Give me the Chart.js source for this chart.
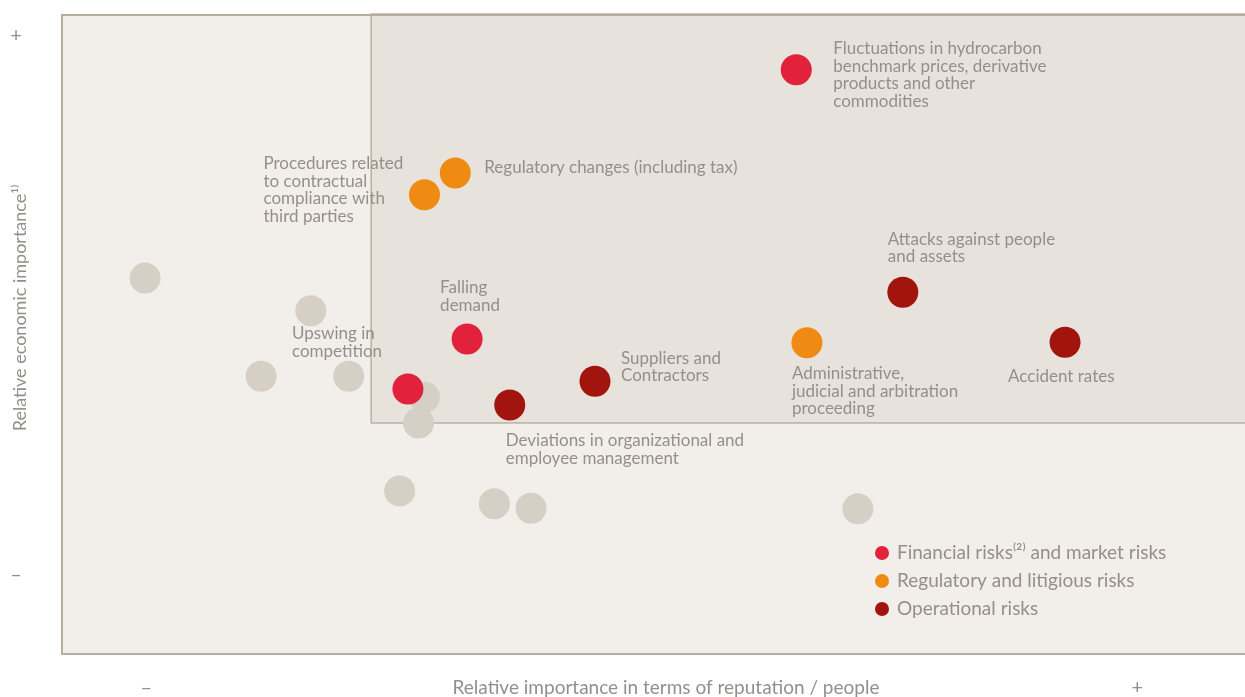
<!DOCTYPE html>
<html>
<head>
<meta charset="utf-8">
<script src="https://cdn.jsdelivr.net/npm/chart.js@4"></script>
<style>
html,body{margin:0;padding:0;background:#fff;overflow:hidden}
canvas{display:block}
</style>
</head>
<body>
<canvas id="riskChart" width="1245" height="697"></canvas>
<script>
// scale runs 0..100 on both axes (relative importance)
const seriesNames = ["Financial risks\u207D\u00B2\u207E and market risks", "Regulatory and litigious risks", "Operational risks"]

const financialX = [62.1, 34.3, 29.3]
const financialY = [91.3, 49.3, 41.5]
const financialLabels = ["Fluctuations in hydrocarbon\nbenchmark prices, derivative\nproducts and other\ncommodities", "Falling\ndemand", "Upswing in\ncompetition"]

const regulatoryX = [33.3, 30.7, 63.0]
const regulatoryY = [75.2, 71.8, 48.7]
const regulatoryLabels = ["Regulatory changes (including tax)", "Procedures related\nto contractual\ncompliance with\nthird parties", "Administrative,\njudicial and arbitration\nproceeding"]

const operationalX = [71.1, 84.8, 45.1, 37.9]
const operationalY = [56.6, 48.8, 42.7, 39.0]
const operationalLabels = ["Attacks against people\nand assets", "Accident rates", "Suppliers and\nContractors", "Deviations in organizational and\nemployee management"]

const otherX = [7.1, 21.1, 16.9, 24.3, 30.7, 30.2, 28.6, 36.6, 39.7, 67.3]
const otherY = [58.8, 53.7, 43.5, 43.5, 40.2, 36.2, 25.6, 23.6, 22.9, 22.8]

const xTicks = [7.2, 90.9]
const yTicks = [12.5, 96.7]
const tickText = ["\u2013", "+"]
const xTitle = "Relative importance in terms of reputation / people"
const yTitle = "Relative economic importance\u00B9\u207E"

// priority zone (upper right box)
const zoneX = [26.2, 100]
const zoneY = [36.2, 100]

// label offsets in px from the point: [dx, dy of first line]
const labelOffsets = {
  financial: [[37, -21], [-27, -51], [-116, -55]],
  regulatory: [[29, -5], [-161, -31], [-15, 31]],
  operational: [[-15, -53], [-57, 34], [26, -23], [-4, 36]]
}

const colors = ["#e2213b", "#ef8b12", "#a2150f"]
const grey = "#d5cfc5"
const textColor = "#948f89"
const fontFamily = "Lato, 'Open Sans', sans-serif"

const toPts = (xs, ys) => xs.map((x, i) => ({x: x, y: ys[i]}))

const boxPlugin = {
  id: "box",
  beforeDatasetsDraw(chart){
    const c = chart.ctx, a = chart.chartArea
    const sx = chart.scales.x, sy = chart.scales.y
    c.save()
    c.fillStyle = "#f2efeb"
    c.fillRect(a.left, a.top, a.right - a.left, a.bottom - a.top)
    const x0 = sx.getPixelForValue(zoneX[0]), x1 = sx.getPixelForValue(zoneX[1])
    const y0 = sy.getPixelForValue(zoneY[1]), y1 = sy.getPixelForValue(zoneY[0])
    c.fillStyle = "#e8e2dc"
    c.fillRect(x0, y0, x1 - x0, y1 - y0)
    c.strokeStyle = "#b9b0a3"
    c.lineWidth = 1.5
    c.strokeRect(x0, y0, x1 - x0 + 4, y1 - y0)
    c.strokeStyle = "#b7ad9f"
    c.lineWidth = 2
    c.strokeRect(a.left + 1, a.top + 1, a.right - a.left + 4, a.bottom - a.top - 2)

    // axis ticks and titles
    c.fillStyle = textColor
    c.textAlign = "center"
    c.textBaseline = "middle"
    c.font = "20px " + fontFamily
    xTicks.forEach((v, i) => c.fillText(tickText[i], sx.getPixelForValue(v), 688))
    yTicks.forEach((v, i) => c.fillText(tickText[i], 16, sy.getPixelForValue(v)))
    c.font = "19px " + fontFamily
    c.fillText(xTitle, 666, 688)
    c.save()
    c.translate(20, 308)
    c.rotate(-Math.PI / 2)
    c.font = "18px " + fontFamily
    c.fillText(yTitle, 0, 0)
    c.restore()
    c.restore()
  },
  afterDatasetsDraw(chart){
    const c = chart.ctx
    c.save()
    c.font = "17px " + fontFamily
    c.fillStyle = textColor
    c.textBaseline = "middle"
    const groups = [
      [0, financialLabels, labelOffsets.financial],
      [1, regulatoryLabels, labelOffsets.regulatory],
      [2, operationalLabels, labelOffsets.operational]
    ]
    groups.forEach(([di, labels, offs]) => {
      const meta = chart.getDatasetMeta(di)
      meta.data.forEach((pt, i) => {
        labels[i].split("\n").forEach((line, j) => {
          c.fillText(line, pt.x + offs[i][0], pt.y + offs[i][1] + j * 17.5)
        })
      })
    })
    // legend
    c.font = "19px " + fontFamily
    seriesNames.forEach((name, i) => {
      const y = 553 + i * 28
      c.fillStyle = colors[i]
      c.beginPath()
      c.arc(882, y, 7, 0, Math.PI * 2)
      c.fill()
      c.fillStyle = textColor
      c.fillText(name, 897, y)
    })
    c.restore()
  }
}

new Chart(document.getElementById("riskChart"), {
  type: "scatter",
  data: {
    datasets: [
      {label: seriesNames[0], data: toPts(financialX, financialY), backgroundColor: colors[0], order: 1},
      {label: seriesNames[1], data: toPts(regulatoryX, regulatoryY), backgroundColor: colors[1], order: 1},
      {label: seriesNames[2], data: toPts(operationalX, operationalY), backgroundColor: colors[2], order: 1},
      {label: "Other risks", data: toPts(otherX, otherY), backgroundColor: grey, order: 2}
    ]
  },
  options: {
    responsive: false,
    animation: false,
    layout: {autoPadding: false, padding: {top: 14, right: 0, left: 61, bottom: 42}},
    elements: {point: {radius: 15.5, borderWidth: 0, hoverRadius: 15.5}},
    plugins: {legend: {display: false}, tooltip: {enabled: false}},
    scales: {
      x: {type: "linear", min: 0, max: 100, display: false},
      y: {type: "linear", min: 0, max: 100, display: false}
    }
  },
  plugins: [boxPlugin]
})
</script>
</body>
</html>
